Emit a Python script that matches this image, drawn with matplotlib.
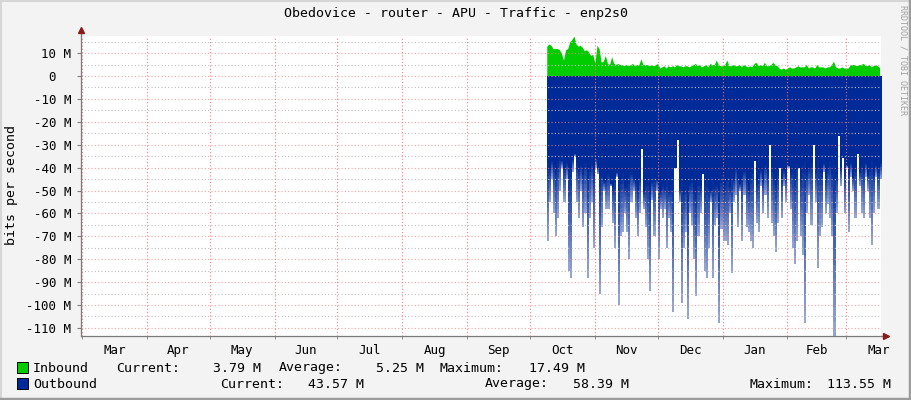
import numpy as np
import matplotlib
matplotlib.use("Agg")
import matplotlib.pyplot as plt
from matplotlib.lines import Line2D
from matplotlib.patches import Rectangle

# --- data (values in Mbit/s, one sample per day, day 0 = 1st of March) ---
title = "Obedovice - router - APU - Traffic - enp2s0"
month_names = ["Mar", "Apr", "May", "Jun", "Jul", "Aug", "Sep",
               "Oct", "Nov", "Dec", "Jan", "Feb", "Mar"]
month_lengths = [31, 30, 31, 30, 31, 31, 30, 31, 30, 31, 31, 28, 31]
first_day = 222

inbound = [
    13, 14, 13.5, 12, 12, 12, 11.5, 10, 7, 11.5,
    12, 15, 16, 17.5, 14, 13, 13.5, 12.5, 11, 11.5,
    10.5, 9, 9.5, 5.5, 13.5, 12, 6, 6.5, 9, 5.5,
    5, 8.5, 5.5, 5, 5.5, 5, 5, 4.5, 5, 4.5,
    5, 5.5, 4.5, 5, 5, 7.5, 5, 5, 5, 4.5,
    5, 4.5, 5, 5.5, 3.5, 4, 4.5, 3.5, 4.5, 4,
    4.5, 4, 5, 4.5, 4.5, 4, 4.5, 4.5, 4, 4.5,
    5, 5.5, 4.5, 5, 4, 4.5, 5, 4, 5.5, 5,
    5, 7, 5, 4.5, 4.5, 5, 7, 4.5, 4.5, 5,
    4.5, 4.5, 5, 4, 5, 4.5, 4, 4.5, 4, 5.5,
    6, 4.5, 5, 4.5, 6, 4.5, 4.5, 5, 6, 5,
    4.5, 3.5, 3, 3.5, 3, 3.5, 4, 3.5, 3.5, 4,
    4.5, 4, 4, 4, 5, 3.5, 4, 4, 3.5, 5,
    4, 4, 4, 3.5, 4, 4, 5, 6.5, 4, 3.5,
    3.5, 4, 3.5, 3.5, 3.5, 5, 5, 5, 4.5, 5,
    5, 5.5, 5, 4.5, 5, 4, 4.5, 5, 4.5, 3.8,
]

# outbound: daily peaks and the steady level under which the peaks hang
outbound_peak = [
    72, 55, 45, 60, 70, 62, 50, 40, 55, 45,
    85, 88, 42, 35, 55, 62, 50, 66, 60, 88,
    62, 55, 75, 40, 43, 95, 66, 50, 58, 58,
    48, 64, 75, 44, 100, 70, 68, 60, 68, 80,
    55, 50, 62, 70, 60, 32, 58, 66, 80, 94,
    54, 70, 50, 80, 58, 62, 58, 75, 62, 68,
    103, 40, 28, 55, 99, 75, 68, 106, 60, 65,
    80, 96, 70, 60, 43, 85, 88, 75, 55, 88,
    65,
    62, 108, 67, 72, 72, 74, 60, 86, 55, 52,
    66, 50, 72, 52, 66, 68, 72, 75, 37, 64,
    68, 48, 60, 52, 62, 30, 64, 70, 77, 64,
    40, 62, 48, 55, 40, 58, 75, 82, 72, 40,
    70, 78, 108, 60, 52, 65, 30, 55, 84, 70,
    66, 42, 60, 56, 62, 70, 113.5, 60, 26, 48,
    36, 60, 40, 68, 44, 50, 62, 34, 48, 60,
    62, 44, 50, 62, 74, 60, 44, 58, 45,
]

outbound_base = [
    38, 40, 37, 39, 41, 38, 36, 37, 40, 38, 42, 40, 36, 34, 38, 40, 39, 41, 38, 42,
    40, 38, 41, 36, 40,
    44, 42, 46, 45, 43, 47, 48, 44, 42, 46, 45, 43, 48, 47, 44, 42, 45, 46, 48, 44,
    43, 50, 47, 45, 48, 46, 44, 45, 48, 50,
    47, 49, 46, 50, 48, 45, 52, 47, 49, 46, 50, 48, 51, 47, 45, 49, 50, 46, 48, 52,
    47, 45, 49, 50, 46, 48, 47, 50, 45, 48,
    46, 44, 48, 42, 45, 40, 43, 47, 44, 41, 45, 48, 42, 40, 44, 46, 43, 41, 45, 39,
    42, 44, 40, 43, 46, 42, 40, 44, 41, 43, 39, 42,
    40, 42, 38, 41, 44, 39, 37, 42, 40, 38, 43, 41, 36, 40, 42, 38, 44, 40, 37, 41,
    39, 43, 38, 40, 36, 42, 39, 41, 38, 44, 40, 37, 42, 39, 41, 38, 43, 40, 37, 42,
    39, 41, 38,
]

in_stats = ["3.79 M", "5.25 M", "17.49 M"]
out_stats = ["43.57 M", "58.39 M", "113.55 M"]

# --- figure ---
W, H = 911, 400
mono = "DejaVu Sans Mono"
green = "#00cc00"
blue = "#002a97"

fig = plt.figure(figsize=(W / 100, H / 100), dpi=100, facecolor="#f3f3f3")
ax = fig.add_axes([81 / W, 64 / H, 800 / W, 300 / H])
ax.set_facecolor("white")

days = first_day + np.arange(len(inbound))
ax.fill_between(days, 0, inbound, color=green, lw=0, zorder=2)

# outbound drawn as daily columns: solid down to the steady level,
# then a fading column down to the peak (like rrdtool's antialiased spikes)
peak = np.array(outbound_peak, dtype=float)
base = np.array(outbound_base, dtype=float)
edges = first_day + np.arange(len(peak) + 1)
solid = np.minimum(base, peak)
extra = np.maximum(peak - base, 0)

def ext(a):
    return np.append(a, a[-1])

ax.fill_between(edges, 0, -ext(solid), step="post", color=blue, lw=0, zorder=2)
K = 12
for k in range(K):
    lo = solid + extra * k / K
    hi = solid + extra * (k + 1) / K
    a = 1.0 - 0.6 * (k + 0.5) / K
    ax.fill_between(edges, -ext(lo), -ext(hi), step="post", color=blue, alpha=a,
                    lw=0, antialiased=False, zorder=2)

ax.set_xlim(-0.53, 381.7)
ax.set_ylim(-113.55, 17.49)

# grid: gray dotted every 5 M, red dotted every 10 M and at month starts
for v in np.arange(-105, 16, 10):
    ax.axhline(v, color="#c0c0c0", lw=0.8, ls=(0, (1, 2)), zorder=3)
for v in np.arange(-110, 11, 10):
    ax.axhline(v, color="#ff8080", lw=0.8, ls=(0, (1, 2)), alpha=0.75, zorder=3)

starts = np.concatenate([[0], np.cumsum(month_lengths)])
for s in starts[:-1]:
    ax.axvline(s, color="#ff7070", lw=0.8, ls=(0, (1, 2)), alpha=0.9, zorder=3)

mids = starts[:-1] + np.array(month_lengths) / 2
ax.set_xticks(mids)
ax.set_xticklabels(month_names, fontfamily=mono, fontsize=9)
ax.set_xticks(starts[:-1], minor=True)
ax.tick_params(axis="x", which="major", length=0, pad=6)
ax.tick_params(axis="x", which="minor", length=2, color="#808080")

yt = np.arange(-110, 11, 10)
ax.set_yticks(yt)
ax.set_yticklabels([f"{v} M" if v != 0 else "0  " for v in yt],
                   fontfamily=mono, fontsize=9)
ax.tick_params(axis="y", length=3, color="#808080", pad=4)

for sp in ["top", "right"]:
    ax.spines[sp].set_visible(False)
for sp in ["left", "bottom"]:
    ax.spines[sp].set_color("#7a7a7a")
    ax.spines[sp].set_linewidth(0.9)
    ax.spines[sp].set_zorder(5)

# axis extensions with arrowheads
ax.plot([0, 0], [1, 1.02], color="#7a7a7a", lw=0.9, transform=ax.transAxes, clip_on=False)
ax.plot([1, 1.006], [0, 0], color="#7a7a7a", lw=0.9, transform=ax.transAxes, clip_on=False)
ax.plot(0, 1.02, marker="^", ms=5, color="#8b1a1a", transform=ax.transAxes, clip_on=False)
ax.plot(1.006, 0, marker=">", ms=5, color="#8b1a1a", transform=ax.transAxes, clip_on=False)

# texts
fig.text(456 / W, 1 - 14 / H, title, ha="center", va="center", fontfamily=mono, fontsize=9.5)
fig.text(12 / W, 1 - 185 / H, "bits per second", rotation=90, ha="center", va="center",
         fontfamily=mono, fontsize=9.5)
fig.text(903 / W, 1 - 60 / H, "RRDTOOL / TOBI OETIKER", rotation=270, ha="center",
         va="center", fontfamily=mono, fontsize=6, color="#a0a0a0")

def legend_row(y, color, name, stats, label_x, value_right):
    fig.patches.append(Rectangle((17 / W, 1 - (y + 5) / H), 11 / W, 11 / H,
                                 transform=fig.transFigure, facecolor=color,
                                 edgecolor="black", lw=0.7))
    fig.text(33 / W, 1 - y / H, name, va="center", fontfamily=mono, fontsize=9.5)
    for lab, lx, val, vr in zip(["Current:", "Average:", "Maximum:"], label_x, stats, value_right):
        fig.text(lx / W, 1 - y / H, lab, va="center", fontfamily=mono, fontsize=9.5)
        fig.text(vr / W, 1 - y / H, val, va="center", ha="right", fontfamily=mono, fontsize=9.5)

legend_row(368, green, "Inbound", in_stats, [116, 279, 440], [261, 424, 585])
legend_row(384, blue, "Outbound", out_stats, [220, 485, 750], [364, 629, 891])

# frame around the image
fig.add_artist(Line2D([0, 1], [1 - 0.5 / H, 1 - 0.5 / H], color="#d6d6d6", lw=1.5))
fig.add_artist(Line2D([0.5 / W, 0.5 / W], [0, 1], color="#d6d6d6", lw=1.5))
fig.add_artist(Line2D([0, 1], [1.5 / H, 1.5 / H], color="#9c9c9c", lw=2.5))
fig.add_artist(Line2D([1 - 1.5 / W, 1 - 1.5 / W], [0, 1], color="#9c9c9c", lw=2.5))

fig.savefig("out.png", dpi=100, facecolor=fig.get_facecolor())
